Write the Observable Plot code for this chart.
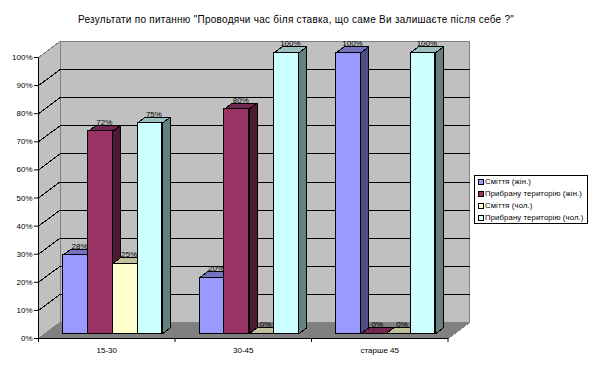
<!DOCTYPE html>
<html><head><meta charset="utf-8">
<script src="https://cdn.jsdelivr.net/npm/d3@7"></script>
<script src="https://cdn.jsdelivr.net/npm/@observablehq/plot@0.6"></script>
<style>
html,body{margin:0;padding:0;background:#fff}
#wrap{position:relative;width:594px;height:368px;overflow:hidden;font-family:"Liberation Sans",Arial,sans-serif;color:#000}
#title{height:30px;box-sizing:border-box;padding-top:14px;padding-left:78px;font-size:10px;letter-spacing:.26px;line-height:12px;white-space:nowrap}
#legend{position:absolute;left:474px;top:175px;width:114px;height:49px;box-sizing:border-box;border:1px solid #000;background:#fff;font-size:7.7px;letter-spacing:.14px;padding-top:0}
.row{position:absolute;left:2px;height:12px;line-height:12px;white-space:nowrap}
.sw{position:absolute;left:1px;top:3px;width:4px;height:4px;border:1px solid #000}
.lb{position:absolute;left:8px;top:0}
svg{display:block}
</style></head><body>
<div id="wrap"><div id="title"></div><div id="chart"></div><div id="legend"></div></div>
<script>
const titleText = "Результати по питанню \"Проводячи час біля ставка, що саме Ви залишаєте після себе ?\"";
const categories = ["15-30", "30-45", "старше 45"];
const seriesNames = ["Сміття (жін.)", "Прибрану територію (жін.)", "Сміття (чол.)", "Прибрану територію (чол.)"];
const smittyaZhin = [28, 20, 100];
const prybranuZhin = [72, 80, 0];
const smittyaChol = [25, 0, 0];
const prybranuChol = [75, 100, 100];
const seriesValues = [smittyaZhin, prybranuZhin, smittyaChol, prybranuChol];
const yTicks = [0,10,20,30,40,50,60,70,80,90,100];
const frontColors = ["#9999FF", "#993366", "#FFFFCC", "#CCFFFF"];
const topColors = ["#7373BF", "#732650", "#BFBF99", "#99BFBF"];
const sideColors = ["#4D4D80", "#4D1A33", "#808066", "#668080"];

// Scale: x in category units, y in percent. 136.5px per category, 2.81px per percent.
const pxX = 1 / 136.5, pxY = 1 / 2.81;
const wallX = 21.5 * pxX, wallY = 16 * pxY;   // depth of the box
const barW = 24.8 * pxX;                      // bar width
const barLead = 24.6 * pxX;                   // gap before first bar
const baseY = 4.7 * pxY;                      // bar base above the front edge
const depX = 8 * pxX, depY = 6 * pxY;         // depth of a bar

const face = (pts, fill, stroke, sw = 1) => Plot.line(pts, {x: "x", y: "y", fill, stroke, strokeWidth: sw, shapeRendering: "crispEdges"});
const P = (x, y) => ({x, y});

const wallMarks = [
  face([P(wallX, wallY), P(3 + wallX, wallY), P(3 + wallX, 100 + wallY), P(wallX, 100 + wallY), P(wallX, wallY)], "#C0C0C0", "#808080"),
  face([P(0, 0), P(wallX, wallY), P(wallX, 100 + wallY), P(0, 100), P(0, 0)], "#C0C0C0", "#808080"),
  ...yTicks.slice(1, -1).map(t => face([P(wallX, t + wallY), P(3 + wallX, t + wallY)], "none", "#000")),
  ...yTicks.slice(1, -1).map(t => face([P(0, t), P(wallX, t + wallY)], "none", "#000")),
  face([P(0, 0), P(3, 0), P(3 + wallX, wallY), P(wallX, wallY), P(0, 0)], "#808080", "#808080")
];

const barMarks = categories.flatMap((c, ci) => seriesNames.flatMap((s, si) => {
  const v = seriesValues[si][ci];
  const x0 = ci + barLead + si * barW, x1 = x0 + barW;
  const b = baseY, t = baseY + v;
  return [
    face([P(x0, t), P(x1, t), P(x1 + depX, t + depY), P(x0 + depX, t + depY), P(x0, t)], topColors[si], "#000"),
    face([P(x1, b), P(x1 + depX, b + depY), P(x1 + depX, t + depY), P(x1, t), P(x1, b)], sideColors[si], "#000"),
    Plot.rect([{s}], {x1: () => x0, x2: () => x1, y1: () => b, y2: () => t, fill: "s", stroke: "#000", strokeWidth: 1, shapeRendering: "crispEdges"})
  ];
}));

const labelRows = categories.flatMap((c, ci) => seriesNames.map((s, si) => ({
  x: ci + barLead + (si + 0.5) * barW,
  y: baseY + seriesValues[si][ci],
  label: seriesValues[si][ci] + "%"
})));

const plot = Plot.plot({
  width: 594, height: 338,
  marginLeft: 38, marginRight: 146.5, marginTop: 27, marginBottom: 30,
  style: {background: "#fff", fontFamily: '"Liberation Sans", Arial, sans-serif', fontSize: "8px", color: "#000"},
  x: {domain: [0, 3], axis: null},
  y: {domain: [0, 100], axis: null},
  color: {domain: seriesNames, range: frontColors},
  marks: [
    ...wallMarks,
    ...barMarks,
    Plot.text(labelRows, {x: "x", y: "y", text: "label", dx: 4, dy: -9, fontSize: 8, fill: "#000"}),
    Plot.ruleX([0], {y1: 0, y2: 100, stroke: "#000", shapeRendering: "crispEdges"}),
    Plot.ruleY([0], {x1: 0, x2: 3, stroke: "#000", shapeRendering: "crispEdges"}),
    Plot.axisY({ticks: yTicks, tickFormat: d => d + "%", tickSize: 4, tickPadding: 2, label: null, stroke: "#000", fontSize: 8}),
    Plot.axisX({ticks: [0, 1, 2, 3], tickFormat: () => "", tickSize: 4, label: null, stroke: "#000"}),
    Plot.text(categories, {x: (d, i) => i + 0.5, y: 0, dy: 12, fontSize: 8, fill: "#000"})
  ]
});
document.getElementById("chart").appendChild(plot);
document.getElementById("title").textContent = titleText;
const legend = document.getElementById("legend");
seriesNames.forEach((s, i) => {
  const row = document.createElement("div");
  row.className = "row";
  row.style.top = (0 + i * 12) + "px";
  const sw = document.createElement("span");
  sw.className = "sw";
  sw.style.background = plot.scale("color").apply(s);
  const lb = document.createElement("span");
  lb.className = "lb";
  lb.textContent = s;
  row.append(sw, lb);
  legend.appendChild(row);
});
</script>
</body></html>
